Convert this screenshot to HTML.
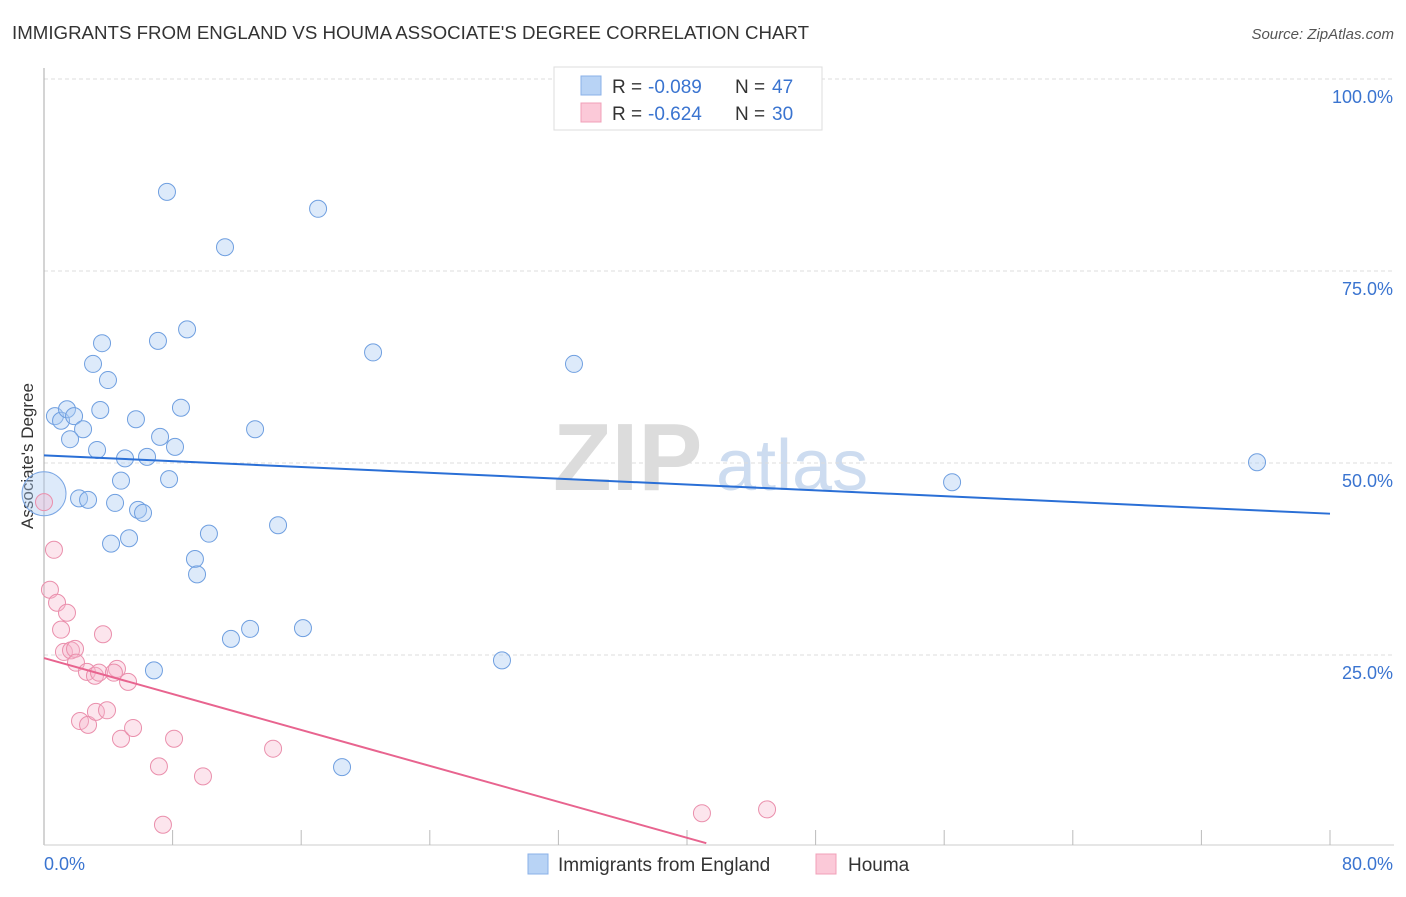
<!DOCTYPE html>
<html><head><meta charset="utf-8"><style>
body{margin:0;background:#fff;font-family:"Liberation Sans",sans-serif;}
svg text{font-family:"Liberation Sans",sans-serif;}
</style></head><body>
<svg id="chart" width="1406" height="892" xmlns="http://www.w3.org/2000/svg">
<text x="12" y="39" font-size="18" fill="#333" textLength="797" lengthAdjust="spacingAndGlyphs">IMMIGRANTS FROM ENGLAND VS HOUMA ASSOCIATE'S DEGREE CORRELATION CHART</text>
<text x="1394" y="39" font-size="15" fill="#555" text-anchor="end" font-style="italic">Source: ZipAtlas.com</text>
<text x="553" y="490" font-size="96" fill="#dcdcdc" font-family="Liberation Serif" font-weight="bold">ZIP</text>
<text x="716" y="490" font-size="72" fill="#cddcf0">atlas</text>
<text transform="translate(33,456) rotate(-90)" font-size="17" fill="#333" text-anchor="middle">Associate's Degree</text>
<g id="grid"></g><g id="axes"></g><g id="marks"></g>
<g>
<rect x="554" y="67" width="268" height="63" fill="#fff" stroke="#ddd"/>
<rect x="581" y="76" width="20" height="19" fill="#b8d3f5" stroke="#8ab0e8"/>
<text x="612" y="93" font-size="19" fill="#333">R =</text>
<text x="648" y="93" font-size="19" fill="#3a74d0">-0.089</text>
<text x="735" y="93" font-size="19" fill="#333">N =</text>
<text x="772" y="93" font-size="19" fill="#3a74d0">47</text>
<rect x="581" y="103" width="20" height="19" fill="#fbc9d8" stroke="#f0a0b8"/>
<text x="612" y="120" font-size="19" fill="#333">R =</text>
<text x="648" y="120" font-size="19" fill="#3a74d0">-0.624</text>
<text x="735" y="120" font-size="19" fill="#333">N =</text>
<text x="772" y="120" font-size="19" fill="#3a74d0">30</text>
</g>
<g>
<rect x="528" y="854" width="20" height="20" fill="#b8d3f5" stroke="#8ab0e8"/>
<text x="558" y="871" font-size="19" fill="#333">Immigrants from England</text>
<rect x="816" y="854" width="20" height="20" fill="#fbc9d8" stroke="#f0a0b8"/>
<text x="848" y="871" font-size="19" fill="#333">Houma</text>
</g>
</svg>
<script>
const yTicks=[25,50,75,100];
const yTickLabels=["25.0%","50.0%","75.0%","100.0%"];
const xTickLabels=["0.0%","80.0%"];
const blueX=[7.65,17.05,11.26,3.61,7.09,8.90,3.05,3.98,20.47,32.97,0.68,1.06,1.43,1.87,2.43,1.62,5.72,8.52,3.30,5.04,6.41,7.22,8.15,13.13,7.78,4.79,2.18,2.74,4.42,5.85,6.16,10.26,14.56,4.17,5.29,9.39,9.52,11.63,12.82,16.11,28.49,6.84,18.54,56.49,75.46,3.5];
const blueY=[85.3,83.1,78.1,65.6,65.9,67.4,62.9,60.8,64.4,62.9,56.1,55.5,57.0,56.1,54.4,53.1,55.7,57.2,51.7,50.6,50.8,53.4,52.1,54.4,47.9,47.7,45.4,45.2,44.8,43.9,43.5,40.8,41.9,39.5,40.2,37.5,35.5,27.1,28.4,28.5,24.3,23.0,10.4,47.5,50.1,56.9];
const pinkX=[0,0.62,0.37,0.81,1.43,1.06,1.24,1.68,1.93,1.99,3.67,2.67,3.17,3.42,4.54,4.35,5.23,2.24,2.74,3.23,3.92,4.79,5.54,8.09,7.15,9.89,14.25,7.40,40.93,44.98];
const pinkY=[44.9,38.7,33.5,31.8,30.5,28.3,25.4,25.6,25.8,24.0,27.7,22.8,22.3,22.7,23.2,22.7,21.5,16.4,15.9,17.6,17.8,14.1,15.5,14.1,10.5,9.2,12.8,2.9,4.4,4.9];
const bigX=[0], bigY=[46.0];
const blueTrend=[[0,51.0],[80,43.4]];
const pinkTrend=[[0,24.6],[41.2,0.5]];
const NS="http://www.w3.org/2000/svg";
const X0=44,X1=1330,Y0=847,Y100=79;
const sx=v=>X0+(X1-X0)*v/80;
const sy=v=>Y0-(Y0-Y100)*v/100;
function mk(tag,attrs,parent){const e=document.createElementNS(NS,tag);for(const k in attrs)e.setAttribute(k,attrs[k]);parent.appendChild(e);return e;}
const grid=document.getElementById('grid'),axes=document.getElementById('axes'),marks=document.getElementById('marks');
yTicks.forEach((t,i)=>{
 const l=mk('line',{x1:44,x2:1394,y1:sy(t),y2:sy(t),stroke:'#ddd','stroke-dasharray':'4,3'},grid);
 
 
 const tx=mk('text',{x:1393,y:sy(t)+24,'font-size':18,fill:'#3a74d0','text-anchor':'end'},axes);
 tx.textContent=yTickLabels[i];
 
 
});
let a=mk('line',{x1:44,x2:44,y1:68,y2:845,stroke:'#aaa'},axes);


a=mk('line',{x1:44,x2:1394,y1:845,y2:845,stroke:'#ccc'},axes);


for(let i=1;i<=10;i++){
 const t=mk('line',{x1:sx(i*8),x2:sx(i*8),y1:830,y2:845,stroke:'#bbb'},axes);
 
 
}
let xl=mk('text',{x:44,y:870,'font-size':18,fill:'#3a74d0'},axes);xl.textContent=xTickLabels[0];


xl=mk('text',{x:1393,y:870,'font-size':18,fill:'#3a74d0','text-anchor':'end'},axes);xl.textContent=xTickLabels[1];


bigX.forEach((x,i)=>{const c=mk('circle',{cx:sx(x),cy:sy(bigY[i]),r:22,fill:'rgba(170,202,242,0.4)',stroke:'#7aa6e4','stroke-width':1},marks);
 
 });
blueX.forEach((x,i)=>{const c=mk('circle',{cx:sx(x),cy:sy(blueY[i]),r:8.5,fill:'rgba(170,202,242,0.4)',stroke:'#6f9fe0','stroke-width':1},marks);
 
 });
pinkX.forEach((x,i)=>{const c=mk('circle',{cx:sx(x),cy:sy(pinkY[i]),r:8.5,fill:'rgba(246,180,202,0.35)',stroke:'#ea8fac','stroke-width':1},marks);
 
 });
let tl=mk('line',{x1:sx(blueTrend[0][0]),y1:sy(blueTrend[0][1]),x2:sx(blueTrend[1][0]),y2:sy(blueTrend[1][1]),stroke:'#2a6fd6','stroke-width':2},marks);


tl=mk('line',{x1:sx(pinkTrend[0][0]),y1:sy(pinkTrend[0][1]),x2:sx(pinkTrend[1][0]),y2:sy(pinkTrend[1][1]),stroke:'#e8648f','stroke-width':2},marks);


</script>
</body></html>
